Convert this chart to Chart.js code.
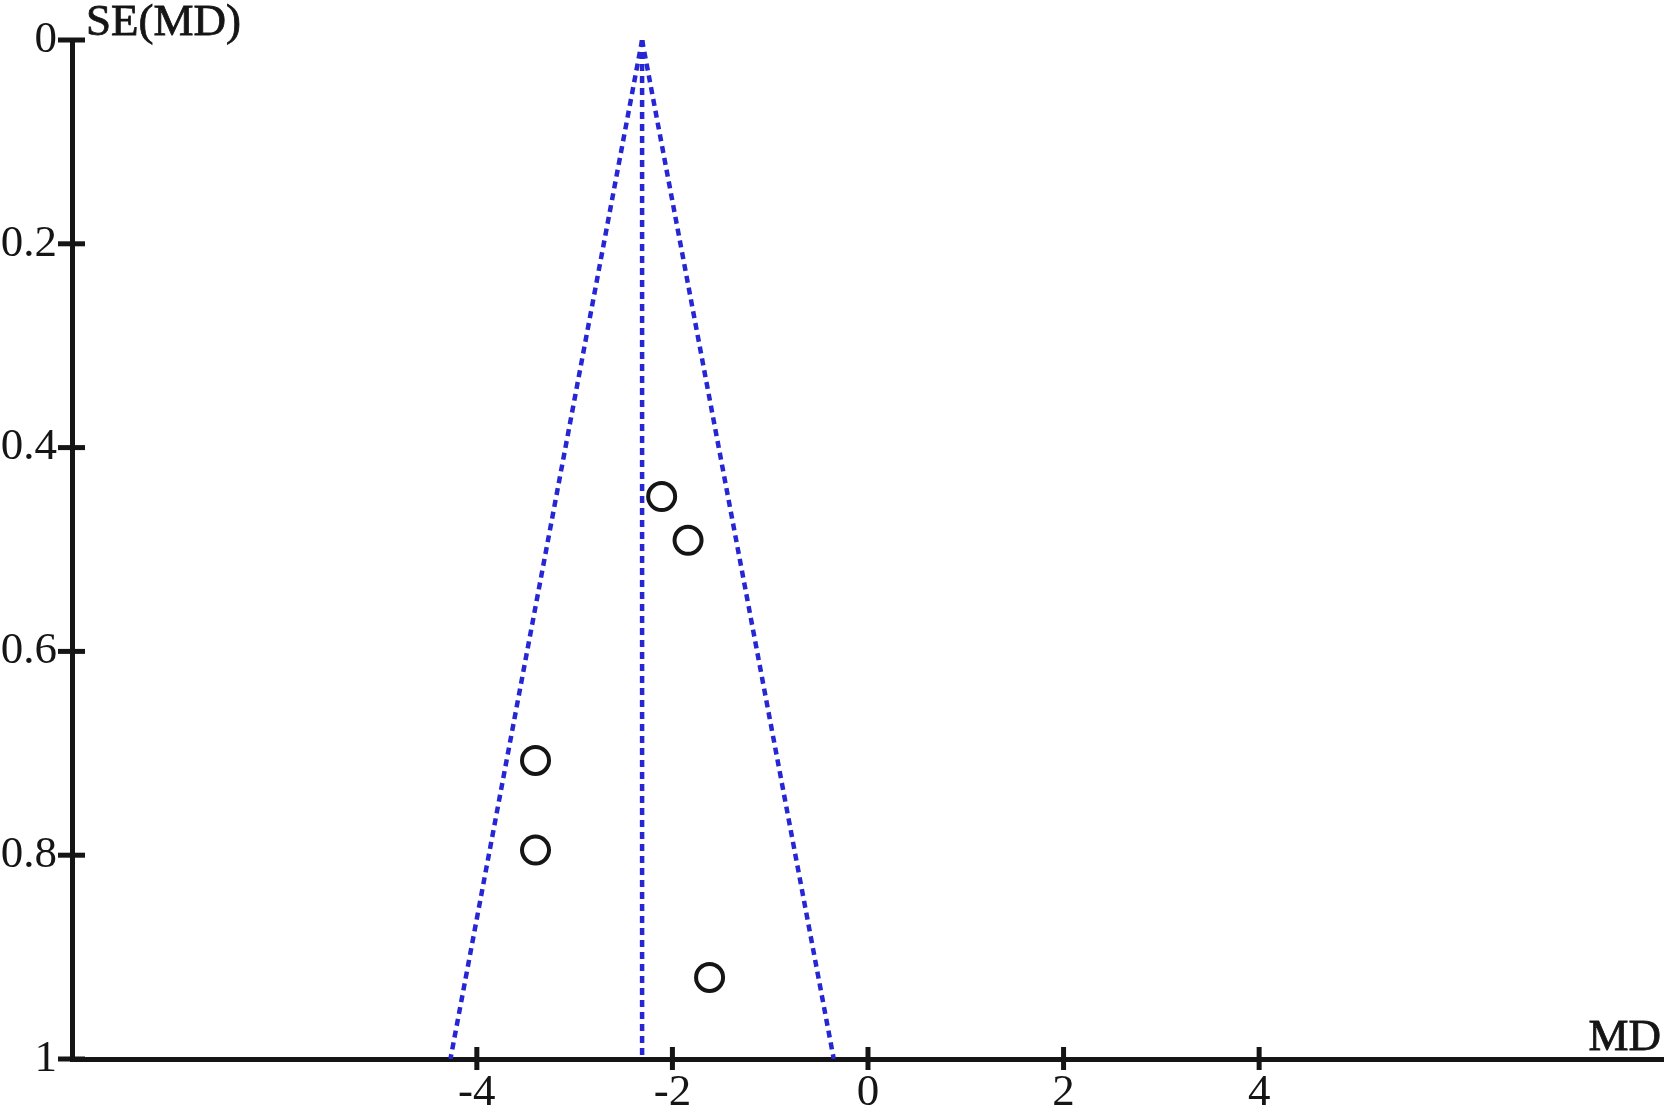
<!DOCTYPE html>
<html>
<head>
<meta charset="utf-8">
<title>Funnel plot</title>
<script src="https://cdn.jsdelivr.net/npm/chart.js@4/dist/chart.umd.min.js"></script>
<style>
  html, body { margin: 0; padding: 0; background: #fff; overflow: hidden; }
  #funnelChart { display: block; }
</style>
</head>
<body>
<canvas id="funnelChart" width="1669" height="1112"></canvas>
<script>
// study estimates
const studyMD = [-2.11, -1.84, -3.40, -3.40, -1.62];
const studySE = [0.448, 0.491, 0.707, 0.795, 0.920];

// pooled estimate and 95% funnel limits (top and bottom ends)
const pooledMD = [-2.31, -2.31];
const lowerLimit = [-2.31, -4.27];
const upperLimit = [-2.31, -0.35];
const funnelSE = [0, 1];

// axis ticks
const xTicks = [-4, -2, 0, 2, 4];
const yTicks = [0, 0.2, 0.4, 0.6, 0.8, 1];
const yTickLabels = ["0", "0.2", "0.4", "0.6", "0.8", "1"];

const toPoints = (xs, ys) => xs.map((x, i) => ({ x: x, y: ys[i] }));

const ink = "#151515";
const blue = "#2626d4";
const serif = "'Liberation Serif', 'Times New Roman', serif";

// cross ticks and axis titles
const axisExtras = {
  id: "axisExtras",
  afterDraw(chart) {
    const { ctx, chartArea, scales } = chart;
    const x = scales.x, y = scales.y;
    ctx.save();
    ctx.strokeStyle = ink;
    ctx.lineWidth = 5;
    yTicks.forEach(v => {
      const py = y.getPixelForValue(v);
      ctx.beginPath();
      ctx.moveTo(chartArea.left - 14, py);
      ctx.lineTo(chartArea.left + 13, py);
      ctx.stroke();
    });
    xTicks.forEach(v => {
      const px = x.getPixelForValue(v);
      ctx.beginPath();
      ctx.moveTo(px, chartArea.bottom - 12);
      ctx.lineTo(px, chartArea.bottom + 11);
      ctx.stroke();
    });
    ctx.fillStyle = ink;
    ctx.strokeStyle = ink;
    ctx.lineWidth = 0.8;
    ctx.font = "45px " + serif;
    ctx.textBaseline = "alphabetic";
    ctx.textAlign = "left";
    ctx.fillText("SE(MD)", chartArea.left + 14, chartArea.top - 5);
    ctx.strokeText("SE(MD)", chartArea.left + 14, chartArea.top - 5);
    ctx.textAlign = "right";
    ctx.fillText("MD", chartArea.right - 2, chartArea.bottom - 9);
    ctx.strokeText("MD", chartArea.right - 2, chartArea.bottom - 9);
    ctx.restore();
  }
};

new Chart(document.getElementById("funnelChart"), {
  type: "scatter",
  data: {
    datasets: [
      {
        label: "Studies",
        data: toPoints(studyMD, studySE),
        pointStyle: "circle",
        pointRadius: 13.5,
        pointBorderWidth: 4,
        pointBorderColor: ink,
        pointBackgroundColor: "rgba(0,0,0,0)",
        order: 0
      },
      {
        label: "Lower limit",
        data: toPoints(lowerLimit, funnelSE),
        showLine: true,
        borderColor: blue,
        borderWidth: 4.5,
        borderDash: [7, 5],
        pointRadius: 0,
        order: 1
      },
      {
        label: "Pooled MD",
        data: toPoints(pooledMD, funnelSE),
        showLine: true,
        borderColor: blue,
        borderWidth: 4.5,
        borderDash: [7, 5],
        pointRadius: 0,
        order: 1
      },
      {
        label: "Upper limit",
        data: toPoints(upperLimit, funnelSE),
        showLine: true,
        borderColor: blue,
        borderWidth: 4.5,
        borderDash: [7, 5],
        pointRadius: 0,
        order: 1
      }
    ]
  },
  options: {
    responsive: false,
    animation: false,
    layout: { autoPadding: false, padding: { top: 40, right: 6, left: 0, bottom: 0 } },
    plugins: {
      legend: { display: false },
      tooltip: { enabled: false }
    },
    scales: {
      x: {
        type: "linear",
        position: "bottom",
        min: -8.14,
        max: 8.13,
        afterBuildTicks: scale => { scale.ticks = xTicks.map(v => ({ value: v })); },
        afterFit: scale => {
          scale.height = 53;
          scale.paddingLeft = 0;
          scale.paddingRight = 0;
        },
        grid: { display: false, drawTicks: false },
        border: { display: true, color: ink, width: 5 },
        ticks: {
          color: ink,
          padding: 7,
          maxRotation: 0,
          autoSkip: false,
          font: { family: serif, size: 45 }
        }
      },
      y: {
        type: "linear",
        position: "left",
        reverse: true,
        min: 0,
        max: 1,
        afterBuildTicks: scale => { scale.ticks = yTicks.map(v => ({ value: v })); },
        afterFit: scale => {
          scale.width = 72;
          scale.paddingTop = 0;
          scale.paddingBottom = 0;
        },
        grid: { display: false, drawTicks: false },
        border: { display: true, color: ink, width: 5 },
        ticks: {
          color: ink,
          padding: 15,
          autoSkip: false,
          font: { family: serif, size: 45 },
          callback: (v, i) => yTickLabels[i]
        }
      }
    }
  },
  plugins: [axisExtras]
});
</script>
</body>
</html>
